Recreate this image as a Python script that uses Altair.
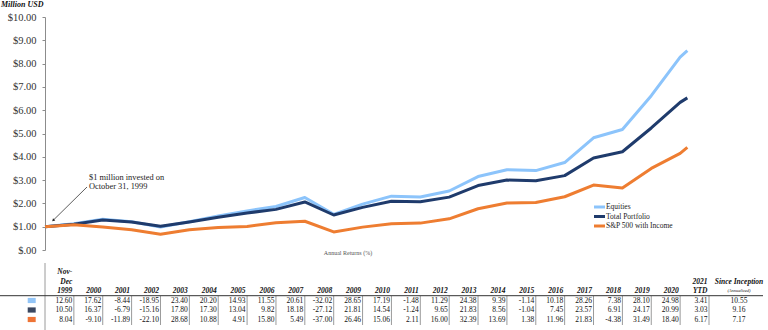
import altair as alt
import pandas as pd

SERIF = "Liberation Serif"

# ---------------- data ----------------
periods = ["Oct 1999", "Dec 1999"] + [str(y) for y in range(2000, 2021)] + ["2021 YTD"]
period_pos = list(range(0, 23)) + [22.25]

equities = [1.000, 1.126, 1.324, 1.213, 0.983, 1.213, 1.458, 1.675, 1.869, 2.254, 1.532, 1.971,
            2.310, 2.276, 2.533, 3.151, 3.447, 3.407, 3.754, 4.815, 5.170, 6.623, 8.278, 8.560]
total = [1.000, 1.105, 1.286, 1.199, 1.017, 1.198, 1.405, 1.588, 1.744, 2.061, 1.502, 1.830,
         2.096, 2.070, 2.270, 2.765, 3.002, 2.971, 3.192, 3.945, 4.217, 5.237, 6.336, 6.528]
sp500 = [1.000, 1.080, 0.982, 0.865, 0.674, 0.867, 0.962, 1.009, 1.168, 1.233, 0.777, 0.982,
         1.130, 1.154, 1.338, 1.772, 2.014, 2.042, 2.286, 2.786, 2.664, 3.502, 4.147, 4.403]

series_names = ["Equities", "Total Portfolio", "S&P 500 with Income"]
line_colors = ["#8cc4fb", "#1f3b6c", "#ee7d31"]
swatch_colors = ["#93c5f7", "#3a4760", "#ee7435"]

col_heads = [["Nov-", "Dec", "1999"]] + [[str(y)] for y in range(2000, 2021)] + [["2021", "YTD"]]
eq_ret = [12.60, 17.62, -8.44, -18.95, 23.40, 20.20, 14.93, 11.55, 20.61, -32.02, 28.65, 17.19,
          -1.48, 11.29, 24.38, 9.39, -1.14, 10.18, 28.26, 7.38, 28.10, 24.98, 3.41]
tp_ret = [10.50, 16.37, -6.79, -15.16, 17.80, 17.30, 13.04, 9.82, 18.18, -27.12, 21.81, 14.54,
          -1.24, 9.65, 21.83, 8.56, -1.04, 7.45, 23.57, 6.91, 24.17, 20.99, 3.03]
sp_ret = [8.04, -9.10, -11.89, -22.10, 28.68, 10.88, 4.91, 15.80, 5.49, -37.00, 26.46, 15.06,
          2.11, 16.00, 32.39, 13.69, 1.38, 11.96, 21.83, -4.38, 31.49, 18.40, 6.17]
since_inception = [10.55, 9.16, 7.17]

# ---------------- tables ----------------
rows = []
for name, vals in zip(series_names, [equities, total, sp500]):
    for p, pos, v in zip(periods, period_pos, vals):
        rows.append({"series": name, "period": p, "pos": pos, "value": v})
lines_df = pd.DataFrame(rows)

n_cols = len(col_heads)
table_df = pd.DataFrame({
    "edge": [i + 1 for i in range(n_cols)],
    "h1": [h[-3] if len(h) >= 3 else "" for h in col_heads],
    "h2": [h[-2] if len(h) >= 2 else "" for h in col_heads],
    "h3": [h[-1] for h in col_heads],
    "r0": [f"{v:.2f}" for v in eq_ret],
    "r1": [f"{v:.2f}" for v in tp_ret],
    "r2": [f"{v:.2f}" for v in sp_ret],
})
since_df = pd.DataFrame({"k": [0], "s0": [f"{since_inception[0]:.2f}"],
                         "s1": [f"{since_inception[1]:.2f}"], "s2": [f"{since_inception[2]:.2f}"]})
dummy = pd.DataFrame({"k": [0]})

W, H = 664, 233
xscale = alt.Scale(domain=[0, 23], nice=False, zero=False)
yscale = alt.Scale(domain=[0, 10], nice=False)
color_scale = alt.Scale(domain=series_names, range=line_colors)

x_main = alt.X("pos:Q", scale=xscale,
               axis=alt.Axis(values=list(range(1, 23)), labels=False, title=None, grid=False,
                             tickSize=3, domainColor="#8c8c8c", tickColor="#8c8c8c"))
y_main = alt.Y("value:Q", scale=yscale,
               axis=alt.Axis(values=list(range(0, 11)), title=None, grid=False, tickSize=3,
                             labelPadding=6, labelFont=SERIF, labelFontSize=10.5, labelColor="#333",
                             domainColor="#8c8c8c", tickColor="#8c8c8c",
                             labelExpr="datum.value == 0 ? '$.00' : '$' + format(datum.value, '.2f')"))

layers = []
for name in series_names:
    layers.append(
        alt.Chart(lines_df).transform_filter(alt.datum.series == name)
        .mark_line(strokeWidth=3, strokeJoin="round")
        .encode(x=x_main, y=y_main,
                color=alt.Color("series:N", scale=color_scale, legend=None))
    )

# legend (inside the plot, lower right)
legend_y = [190, 199.5, 209]
for i, name in enumerate(series_names):
    layers.append(alt.Chart(dummy).mark_rule(strokeWidth=3, color=line_colors[i]).encode(
        x=alt.value(549), x2=alt.value(560), y=alt.value(legend_y[i])))
    layers.append(alt.Chart(dummy).mark_text(
        align="left", baseline="middle", font=SERIF, fontSize=7.5, color="#222").encode(
        x=alt.value(561), y=alt.value(legend_y[i]), text=alt.value(name)))

# table separators
layers.append(alt.Chart(table_df).mark_rule(color="#9a9a9a", strokeWidth=1).encode(
    x=alt.X("edge:Q", scale=xscale, axis=None), y=alt.value(279), y2=alt.value(308)))
layers.append(alt.Chart(dummy).mark_rule(color="#9a9a9a", strokeWidth=1).encode(
    x=alt.value(0), y=alt.value(246), y2=alt.value(313)))
layers.append(alt.Chart(dummy).mark_rule(color="#333", strokeWidth=1).encode(
    x=alt.value(-45), x2=alt.value(718), y=alt.value(278.7)))

# header
for field, yv in [("h1", 255), ("h2", 264.5), ("h3", 273.5)]:
    layers.append(alt.Chart(table_df).mark_text(
        align="right", baseline="middle", font=SERIF, fontSize=7.5, fontWeight="bold",
        fontStyle="italic", dx=-1.5, color="#111").encode(
        x=alt.X("edge:Q", scale=xscale, axis=None), y=alt.value(yv), text=f"{field}:N"))

# value rows + swatches + since inception
row_y = [283.5, 293, 302.5]
for i, yv in enumerate(row_y):
    layers.append(alt.Chart(table_df).mark_text(
        align="right", baseline="middle", font=SERIF, fontSize=7.5, dx=-1.5, color="#111").encode(
        x=alt.X("edge:Q", scale=xscale, axis=None), y=alt.value(yv), text=f"r{i}:N"))
    layers.append(alt.Chart(dummy).mark_rect(color=swatch_colors[i]).encode(
        x=alt.value(-17.3), x2=alt.value(-9.3), y=alt.value(yv - 2.6), y2=alt.value(yv + 2.6)))
    layers.append(alt.Chart(since_df).mark_text(
        align="center", baseline="middle", font=SERIF, fontSize=7.5, color="#111").encode(
        x=alt.value(694), y=alt.value(yv), text=f"s{i}:N"))

layers.append(alt.Chart(dummy).mark_text(
    align="center", baseline="middle", font=SERIF, fontSize=7.5, fontWeight="bold",
    fontStyle="italic", color="#111").encode(
    x=alt.value(694), y=alt.value(264.5), text=alt.value("Since Inception")))
layers.append(alt.Chart(dummy).mark_text(
    align="center", baseline="middle", font=SERIF, fontSize=4.5, fontStyle="italic",
    color="#111").encode(
    x=alt.value(694), y=alt.value(273.5), text=alt.value("(Annualized)")))

# annotations
layers.append(alt.Chart(dummy).mark_text(
    align="left", baseline="middle", font=SERIF, fontSize=8.4, lineHeight=9.4, lineBreak="\n",
    color="#222").encode(
    x=alt.value(44), y=alt.value(160), text=alt.value("$1 million invested on\nOctober 31, 1999")))
layers.append(alt.Chart(dummy).mark_rule(color="#333", strokeWidth=0.8).encode(
    x=alt.value(42), y=alt.value(170), x2=alt.value(9), y2=alt.value(202.5)))
layers.append(alt.Chart(dummy).mark_point(shape="triangle", filled=True, size=10, angle=225,
                                          color="#222", opacity=1).encode(
    x=alt.value(8.5), y=alt.value(203)))
layers.append(alt.Chart(dummy).mark_text(
    align="center", baseline="middle", font=SERIF, fontSize=6, color="#555").encode(
    x=alt.value(303), y=alt.value(236), text=alt.value("Annual Returns (%)")))
layers.append(alt.Chart(dummy).mark_text(
    align="left", baseline="middle", font=SERIF, fontSize=8, fontWeight="bold",
    fontStyle="italic", color="#111").encode(
    x=alt.value(-44), y=alt.value(-12), text=alt.value("Million USD")))

chart = alt.layer(*layers).properties(
    width=W, height=H,
    autosize=alt.AutoSizeParams(type="none"),
    padding={"left": 45, "top": 17, "right": 59, "bottom": 80},
    background="white",
).configure_view(stroke=None)

chart.save("out.html", embed_options={"renderer": "svg", "actions": False})
